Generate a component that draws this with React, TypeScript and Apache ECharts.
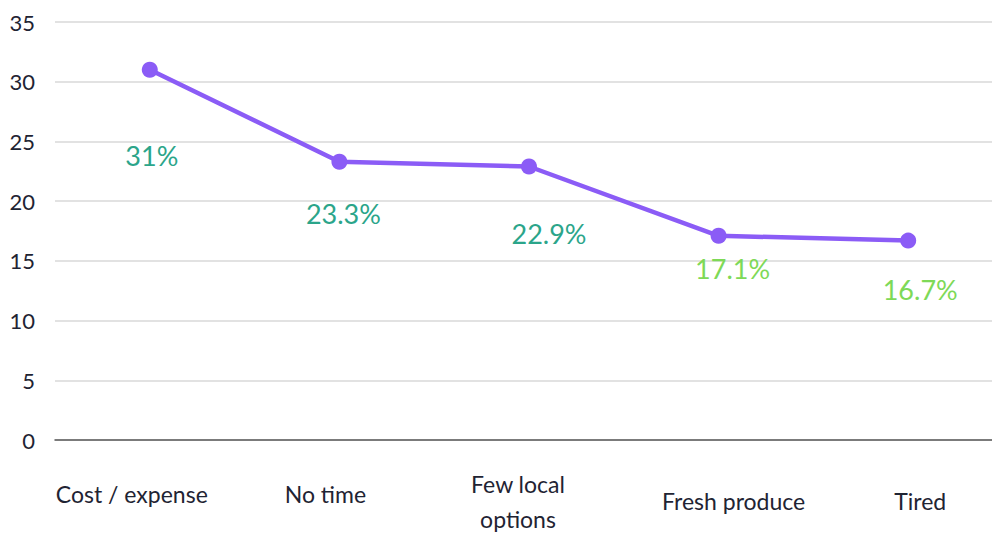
import React, { useEffect, useRef } from "react";
import * as echarts from "echarts";

const categories = ["Cost / expense", "No time", "Few local\noptions", "Fresh produce", "Tired"];
const values = [31, 23.3, 22.9, 17.1, 16.7];
const labelTexts = ["31%", "23.3%", "22.9%", "17.1%", "16.7%"];
const labelColors = ["#2BA58A", "#2BA58A", "#2BA58A", "#7ED957", "#7ED957"];
const labelOffsets = [[2, 86], [4, 52], [20, 67], [14, 33], [12, 49]];
const catStyle = ["a", "b", "c", "d", "e"];

export default function App() {
  const ref = useRef<HTMLDivElement>(null);
  useEffect(() => {
    if (!ref.current) return;
    const chart = echarts.init(ref.current, null, { renderer: "svg" });
    const font = "Lato, 'Open Sans', sans-serif";
    const fs = 23;
    const col = "#1f2433";
    chart.setOption({
      animation: false,
      textStyle: { fontFamily: font },
      grid: { left: 55, top: 22, right: 0, bottom: 94 },
      xAxis: {
        type: "category",
        data: categories,
        boundaryGap: true,
        axisLine: { show: true, lineStyle: { color: "#595959", width: 1.5 } },
        axisTick: { show: false },
        axisLabel: {
          margin: 26,
          interval: 0,
          color: col,
          fontSize: fs,
          fontFamily: font,
          formatter: (v: string) => {
            const i = categories.indexOf(v);
            const s = catStyle[i];
            return v.split("\n").map((line) => `{${s}|${line}}`).join("\n");
          },
          rich: {
            a: { lineHeight: 55, fontSize: fs, color: col, fontFamily: font, padding: [0, 36, 0, 0] },
            b: { lineHeight: 55, fontSize: fs, color: col, fontFamily: font, padding: [0, 28, 0, 0] },
            c: { lineHeight: 35, fontSize: fs, color: col, fontFamily: font, padding: [0, 22, 0, 0] },
            d: { lineHeight: 69, fontSize: fs, color: col, fontFamily: font, padding: [0, 0, 0, 30] },
            e: { lineHeight: 69, fontSize: fs, color: col, fontFamily: font, padding: [0, 0, 0, 24] },
          },
        },
        splitLine: { show: false },
      },
      yAxis: {
        type: "value",
        min: 0,
        max: 35,
        interval: 5,
        axisLine: { show: false },
        axisTick: { show: false },
        axisLabel: { margin: 20, color: col, fontSize: 22, fontFamily: font },
        splitLine: { lineStyle: { color: "#d9d9d9", width: 1.5 } },
      },
      series: [
        {
          type: "line",
          data: values.map((v, i) => ({
            value: v,
            label: {
              show: true,
              position: "inside",
              offset: labelOffsets[i],
              formatter: labelTexts[i],
              color: labelColors[i],
              fontSize: 27,
              fontFamily: font,
              align: "center",
              verticalAlign: "middle",
            },
          })),
          symbol: "circle",
          symbolSize: 16,
          lineStyle: { color: "#8B5CF6", width: 4.5 },
          itemStyle: { color: "#8B5CF6" },
        },
      ],
    });
    return () => chart.dispose();
  }, []);
  return (
    <div style={{ position: "absolute", left: 0, top: 0, width: 992, height: 534, overflow: "hidden" }}>
      <div ref={ref} style={{ width: 1003, height: 534 }} />
    </div>
  );
}
